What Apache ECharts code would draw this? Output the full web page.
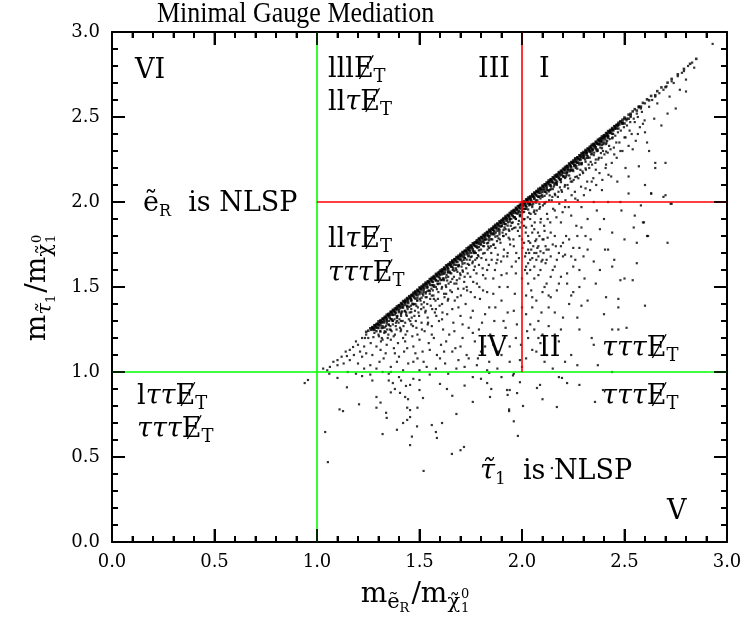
<!DOCTYPE html>
<html><head><meta charset="utf-8">
<script src="https://cdn.jsdelivr.net/npm/echarts@6/dist/echarts.min.js"></script>
<style>html,body{margin:0;padding:0;background:#fff}#c{width:746px;height:621px}</style>
</head><body><div id="c"></div>
<script>
const xTickLabels = ['0.0','0.5','1.0','1.5','2.0','2.5','3.0'];
const yTickLabels = ['0.0','0.5','1.0','1.5','2.0','2.5','3.0'];
const majorTicks = [0,0.5,1,1.5,2,2.5,3];
const minorTicks = [0.1,0.2,0.3,0.4,0.6,0.7,0.8,0.9,1.1,1.2,1.3,1.4,1.6,1.7,1.8,1.9,2.1,2.2,2.3,2.4,2.6,2.7,2.8,2.9];
const greenV = [[1,0],[1,3]];
const greenH = [[0,1],[3,1]];
const redV = [[2,1],[2,3]];
const redH = [[1,2],[3,2]];

const bandA = [[1.24,1.236],[1.25,1.243],[1.26,1.257],[1.27,1.264],[1.28,1.275],[1.29,1.282],[1.30,1.298],[1.31,1.305],[1.32,1.314],[1.33,1.324],[1.34,1.337],[1.35,1.343],[1.36,1.355],[1.37,1.366],[1.38,1.374],[1.39,1.386],[1.40,1.393],[1.41,1.405],[1.42,1.417],[1.43,1.424],[1.44,1.435],[1.45,1.446],[1.46,1.453],[1.47,1.466],[1.48,1.475],[1.49,1.484],[1.50,1.497],[1.51,1.503],[1.52,1.515],[1.53,1.526],[1.54,1.533],[1.55,1.546],[1.56,1.555],[1.57,1.564],[1.58,1.577],[1.59,1.583],[1.60,1.596],[1.61,1.604],[1.62,1.615],[1.63,1.627],[1.64,1.634],[1.65,1.645],[1.66,1.656],[1.67,1.663],[1.68,1.676],[1.69,1.684],[1.70,1.695],[1.71,1.706],[1.72,1.713],[1.73,1.727],[1.74,1.735],[1.75,1.744],[1.76,1.757],[1.77,1.763],[1.78,1.775],[1.79,1.786],[1.80,1.794],[1.81,1.806],[1.82,1.815],[1.83,1.824],[1.84,1.837],[1.85,1.843],[1.86,1.855],[1.87,1.866],[1.88,1.874],[1.89,1.886],[1.90,1.893],[1.91,1.905],[1.92,1.917],[1.93,1.924],[1.94,1.935],[1.95,1.946],[1.96,1.953],[1.97,1.966],[1.98,1.975],[1.99,1.984],[2.00,1.996],[2.01,2.003],[2.02,2.015],[2.03,2.026],[2.04,2.033],[2.05,2.046],[2.06,2.055],[2.07,2.064],[2.08,2.077],[2.09,2.083],[2.10,2.096],[2.11,2.104],[2.12,2.115],[2.13,2.127],[2.14,2.134],[2.15,2.145],[2.16,2.156],[2.17,2.163],[2.18,2.176],[2.19,2.184],[2.20,2.195],[2.21,2.206],[2.22,2.213],[2.23,2.227],[2.24,2.235],[2.25,2.244],[2.26,2.257],[2.27,2.263],[2.28,2.275],[2.29,2.286],[2.30,2.294],[2.31,2.306],[2.32,2.315],[2.33,2.324],[2.34,2.337],[2.35,2.343],[2.36,2.355],[2.37,2.366],[2.38,2.374],[2.39,2.386],[2.40,2.393],[2.41,2.405],[2.42,2.417],[2.43,2.424],[2.44,2.435],[2.45,2.446],[2.46,2.453],[2.47,2.466],[2.48,2.475],[2.49,2.484],[2.50,2.497],[2.52,2.514],[2.54,2.533],[2.55,2.546],[2.57,2.562],[2.59,2.583],[2.61,2.604],[2.63,2.624],[2.66,2.652],[2.68,2.674],[2.71,2.702],[2.73,2.724],[2.76,2.751],[2.79,2.783],[2.82,2.813],[2.85,2.842]];

const bandB = [[1.265,1.248],[1.275,1.26],[1.285,1.267],[1.295,1.279],[1.305,1.287],[1.315,1.297],[1.325,1.31],[1.335,1.317],[1.345,1.328],[1.355,1.338],[1.365,1.35],[1.375,1.357],[1.385,1.368],[1.395,1.379],[1.405,1.387],[1.415,1.398],[1.425,1.41],[1.435,1.416],[1.445,1.429],[1.455,1.437],[1.465,1.448],[1.475,1.46],[1.485,1.466],[1.495,1.478],[1.505,1.489],[1.515,1.497],[1.525,1.508],[1.535,1.52],[1.545,1.527],[1.555,1.538],[1.565,1.549],[1.575,1.556],[1.585,1.569],[1.595,1.577],[1.605,1.588],[1.615,1.599],[1.625,1.607],[1.635,1.618],[1.645,1.63],[1.655,1.636],[1.665,1.649],[1.675,1.657],[1.685,1.668],[1.695,1.679],[1.705,1.687],[1.715,1.698],[1.725,1.71],[1.735,1.716],[1.745,1.729],[1.755,1.737],[1.765,1.748],[1.775,1.759],[1.785,1.766],[1.795,1.778],[1.805,1.789],[1.815,1.797],[1.825,1.808],[1.835,1.82],[1.845,1.827],[1.855,1.838],[1.865,1.849],[1.875,1.856],[1.885,1.869],[1.895,1.877],[1.905,1.888],[1.915,1.899],[1.925,1.907],[1.935,1.918],[1.945,1.93],[1.955,1.936],[1.965,1.949],[1.975,1.957],[1.985,1.968],[1.995,1.979],[2.005,1.987],[2.015,1.998],[2.025,2.01],[2.035,2.016],[2.045,2.029],[2.055,2.037],[2.065,2.048],[2.075,2.059],[2.085,2.066],[2.095,2.078],[2.105,2.089],[2.115,2.097],[2.125,2.108],[2.135,2.12],[2.145,2.127],[2.155,2.138],[2.165,2.149],[2.175,2.156],[2.185,2.169],[2.195,2.177],[2.205,2.188],[2.215,2.199],[2.225,2.207],[2.235,2.218],[2.245,2.23],[2.255,2.236],[2.265,2.249],[2.275,2.257],[2.285,2.268],[2.295,2.279],[2.305,2.287],[2.315,2.298],[2.325,2.31],[2.335,2.316],[2.345,2.329],[2.355,2.337],[2.365,2.348],[2.375,2.359],[2.385,2.366],[2.395,2.378],[2.405,2.389],[2.415,2.397],[2.425,2.408],[2.435,2.42],[2.445,2.427],[2.455,2.438],[2.465,2.449],[2.475,2.456],[2.49,2.47],[2.51,2.49],[2.53,2.509],[2.56,2.538],[2.58,2.561],[2.62,2.598],[2.65,2.628],[2.70,2.676]];

const bandC = [[1.28,1.248],[1.295,1.262],[1.31,1.274],[1.325,1.291],[1.34,1.303],[1.355,1.318],[1.37,1.336],[1.385,1.349],[1.40,1.363],[1.415,1.38],[1.43,1.394],[1.445,1.406],[1.46,1.425],[1.475,1.438],[1.49,1.452],[1.505,1.47],[1.52,1.483],[1.535,1.497],[1.55,1.513],[1.565,1.53],[1.58,1.541],[1.595,1.558],[1.61,1.575],[1.625,1.586],[1.64,1.603],[1.655,1.62],[1.67,1.631],[1.685,1.648],[1.70,1.665],[1.715,1.676],[1.73,1.693],[1.745,1.71],[1.76,1.721],[1.775,1.738],[1.79,1.755],[1.805,1.766],[1.82,1.783],[1.835,1.8],[1.85,1.811],[1.865,1.828],[1.88,1.845],[1.895,1.856],[1.91,1.873],[1.925,1.89],[1.94,1.901],[1.955,1.918],[1.97,1.935],[1.985,1.946],[2.00,1.963],[2.015,1.98],[2.03,1.991],[2.045,2.008],[2.06,2.025],[2.075,2.036],[2.09,2.053],[2.105,2.07],[2.12,2.081],[2.135,2.098],[2.15,2.115],[2.165,2.126],[2.18,2.143],[2.195,2.16],[2.21,2.171],[2.225,2.188],[2.24,2.205],[2.255,2.216],[2.27,2.233],[2.285,2.25],[2.30,2.261],[2.315,2.278],[2.33,2.295],[2.345,2.306],[2.36,2.323],[2.375,2.34],[2.39,2.351],[2.405,2.368],[2.42,2.385],[2.44,2.402],[2.47,2.432],[2.50,2.462]];

const bandD = [[1.29,1.24],[1.315,1.258],[1.34,1.285],[1.365,1.31],[1.39,1.327],[1.415,1.356],[1.44,1.383],[1.465,1.402],[1.49,1.437],[1.515,1.46],[1.54,1.478],[1.565,1.51],[1.59,1.535],[1.615,1.55],[1.64,1.585],[1.665,1.61],[1.69,1.625],[1.715,1.66],[1.74,1.685],[1.765,1.7],[1.79,1.735],[1.815,1.76],[1.84,1.775],[1.865,1.81],[1.89,1.835],[1.915,1.85],[1.94,1.885],[1.965,1.91],[1.99,1.925],[2.015,1.96],[2.04,1.985],[2.065,2.0],[2.09,2.035],[2.115,2.06],[2.14,2.075],[2.165,2.11],[2.19,2.135],[2.215,2.15],[2.24,2.185],[2.265,2.21],[2.29,2.225],[2.315,2.26],[2.34,2.285],[2.365,2.3],[2.39,2.335],[2.415,2.36],[2.44,2.375]];

const bandE = [[1.27,1.259],[1.283,1.274],[1.296,1.285],[1.309,1.298],[1.322,1.313],[1.335,1.324],[1.348,1.337],[1.361,1.352],[1.374,1.363],[1.387,1.376],[1.40,1.391],[1.413,1.402],[1.426,1.415],[1.439,1.43],[1.452,1.441],[1.465,1.454],[1.478,1.469],[1.491,1.48],[1.504,1.493],[1.517,1.508],[1.53,1.519],[1.543,1.532],[1.556,1.547],[1.569,1.558],[1.582,1.571],[1.595,1.586],[1.608,1.597],[1.621,1.61],[1.634,1.625],[1.647,1.636],[1.66,1.649],[1.673,1.664],[1.686,1.675],[1.699,1.688],[1.712,1.703],[1.725,1.714],[1.738,1.727],[1.751,1.742],[1.764,1.753],[1.777,1.766],[1.79,1.781],[1.803,1.792],[1.816,1.805],[1.829,1.82],[1.842,1.831],[1.855,1.844],[1.868,1.859],[1.881,1.87],[1.894,1.883],[1.907,1.898],[1.92,1.909],[1.933,1.922],[1.946,1.937],[1.959,1.948],[1.972,1.961],[1.985,1.976],[1.998,1.987],[2.011,2.0],[2.024,2.015],[2.037,2.026],[2.05,2.039],[2.063,2.054],[2.076,2.065],[2.089,2.078],[2.102,2.093],[2.115,2.104],[2.128,2.117],[2.141,2.132],[2.154,2.143],[2.167,2.156],[2.18,2.171],[2.193,2.182],[2.206,2.195],[2.219,2.21],[2.232,2.221],[2.245,2.234],[2.258,2.249],[2.271,2.26],[2.284,2.273],[2.297,2.288],[2.31,2.299],[2.323,2.312],[2.336,2.327],[2.349,2.338],[2.362,2.351],[2.375,2.366],[2.388,2.377],[2.401,2.39],[2.414,2.405],[2.427,2.416],[2.44,2.429],[2.453,2.444],[2.466,2.455],[2.48,2.469],[2.50,2.488],[2.53,2.519],[2.57,2.557]];

const bandF = [[1.275,1.251],[1.288,1.26],[1.301,1.275],[1.314,1.29],[1.327,1.299],[1.34,1.314],[1.353,1.329],[1.366,1.338],[1.379,1.353],[1.392,1.368],[1.405,1.377],[1.418,1.392],[1.431,1.407],[1.444,1.416],[1.457,1.431],[1.47,1.446],[1.483,1.455],[1.496,1.47],[1.509,1.485],[1.522,1.494],[1.535,1.509],[1.548,1.524],[1.561,1.533],[1.574,1.548],[1.587,1.563],[1.60,1.572],[1.613,1.587],[1.626,1.602],[1.639,1.611],[1.652,1.626],[1.665,1.641],[1.678,1.65],[1.691,1.665],[1.704,1.68],[1.717,1.689],[1.73,1.704],[1.743,1.719],[1.756,1.728],[1.769,1.743],[1.782,1.758],[1.795,1.767],[1.808,1.782],[1.821,1.797],[1.834,1.806],[1.847,1.821],[1.86,1.836],[1.873,1.845],[1.886,1.86],[1.899,1.875],[1.912,1.884],[1.925,1.899],[1.938,1.914],[1.951,1.923],[1.964,1.938],[1.977,1.953],[1.99,1.962],[2.003,1.977],[2.016,1.992],[2.029,2.001],[2.042,2.016],[2.055,2.031],[2.068,2.04],[2.081,2.055],[2.094,2.07],[2.107,2.079],[2.12,2.094],[2.133,2.109],[2.146,2.118],[2.159,2.133],[2.172,2.148],[2.185,2.157],[2.198,2.172],[2.211,2.187],[2.224,2.196],[2.237,2.211],[2.25,2.226],[2.263,2.235],[2.276,2.25],[2.289,2.265],[2.302,2.274],[2.315,2.289],[2.328,2.304],[2.341,2.313],[2.354,2.328],[2.367,2.343],[2.38,2.352],[2.393,2.367],[2.406,2.382],[2.419,2.391],[2.432,2.406],[2.445,2.421],[2.46,2.433],[2.49,2.462],[2.52,2.49]];

const bandG = [[1.30,1.258],[1.32,1.27],[1.34,1.297],[1.36,1.311],[1.38,1.338],[1.40,1.352],[1.42,1.379],[1.44,1.389],[1.46,1.418],[1.48,1.431],[1.50,1.458],[1.52,1.47],[1.54,1.498],[1.56,1.511],[1.58,1.538],[1.60,1.55],[1.62,1.578],[1.64,1.591],[1.66,1.618],[1.68,1.63],[1.70,1.658],[1.72,1.671],[1.74,1.698],[1.76,1.71],[1.78,1.738],[1.80,1.751],[1.82,1.778],[1.84,1.79],[1.86,1.818],[1.88,1.831],[1.90,1.858],[1.92,1.87],[1.94,1.898],[1.96,1.911],[1.98,1.938],[2.00,1.95],[2.02,1.978],[2.04,1.991],[2.06,2.018],[2.08,2.03],[2.10,2.058],[2.12,2.071],[2.14,2.098],[2.16,2.11],[2.18,2.138],[2.20,2.151],[2.22,2.178],[2.24,2.19],[2.26,2.218],[2.28,2.231],[2.30,2.258],[2.32,2.27],[2.34,2.298],[2.36,2.311],[2.38,2.338],[2.40,2.35],[2.42,2.378]];

const bandH = [[1.31,1.238],[1.33,1.262],[1.35,1.276],[1.37,1.301],[1.39,1.318],[1.41,1.342],[1.43,1.356],[1.45,1.383],[1.47,1.397],[1.49,1.421],[1.51,1.437],[1.53,1.462],[1.55,1.476],[1.57,1.501],[1.59,1.517],[1.61,1.541],[1.63,1.556],[1.65,1.582],[1.67,1.596],[1.69,1.621],[1.71,1.637],[1.73,1.661],[1.75,1.676],[1.77,1.702],[1.79,1.716],[1.81,1.741],[1.83,1.757],[1.85,1.781],[1.87,1.796],[1.89,1.822],[1.91,1.836],[1.93,1.861],[1.95,1.877],[1.97,1.901],[1.99,1.916],[2.01,1.942],[2.03,1.956],[2.05,1.981],[2.07,1.997],[2.09,2.021],[2.11,2.036],[2.13,2.062],[2.15,2.076],[2.17,2.101],[2.19,2.117],[2.21,2.141],[2.23,2.156],[2.25,2.182],[2.27,2.196],[2.29,2.221],[2.31,2.237],[2.33,2.261],[2.35,2.276],[2.37,2.302],[2.39,2.316],[2.41,2.341]];

const bandI = [[1.335,1.235],[1.36,1.248],[1.385,1.29],[1.41,1.3],[1.435,1.338],[1.46,1.352],[1.485,1.389],[1.51,1.398],[1.535,1.44],[1.56,1.449],[1.585,1.487],[1.61,1.5],[1.635,1.538],[1.66,1.547],[1.685,1.589],[1.71,1.598],[1.735,1.636],[1.76,1.65],[1.785,1.688],[1.81,1.697],[1.835,1.739],[1.86,1.748],[1.885,1.786],[1.91,1.8],[1.935,1.838],[1.96,1.847],[1.985,1.889],[2.01,1.898],[2.035,1.936],[2.06,1.95],[2.085,1.988],[2.11,1.997],[2.135,2.039],[2.16,2.048],[2.185,2.086],[2.21,2.1],[2.235,2.138],[2.26,2.147],[2.285,2.189],[2.31,2.198],[2.335,2.236],[2.36,2.25],[2.385,2.288],[2.41,2.297]];

const startPts = [[1.03,1.02],[1.063,1.03],[1.10,1.07],[1.12,1.09],[1.16,1.13],[1.176,1.147],[1.20,1.16],[1.234,1.2],[1.146,1.094],[1.10,1.04],[1.16,1.07],[1.22,1.09],[1.21,1.12],[1.08,1.06],[1.14,1.12],[1.19,1.18],[1.22,1.2],[1.24,1.22],[1.05,1.01],[1.13,1.05],[1.18,1.1],[1.23,1.15],[1.25,1.2],[1.2,1.05],[1.23,1.02],[1.15,1.0],[1.24,1.11]];

const midPts = [[1.262,1.17],[1.275,1.205],[1.29,1.15],[1.30,1.22],[1.31,1.13],[1.32,1.19],[1.33,1.24],[1.335,1.11],[1.345,1.2],[1.27,1.1],[1.28,1.23],[1.305,1.06],[1.325,1.08],[1.34,1.16],[1.26,1.04],[1.29,1.02],
[1.355,1.25],[1.36,1.19],[1.37,1.28],[1.375,1.14],[1.38,1.22],[1.39,1.3],[1.395,1.17],[1.40,1.09],[1.405,1.26],[1.41,1.33],[1.42,1.2],[1.425,1.12],[1.43,1.29],[1.435,1.35],[1.44,1.24],[1.445,1.05],[1.36,1.03],[1.39,1.06],[1.42,1.01],[1.38,1.11],
[1.455,1.3],[1.46,1.37],[1.465,1.21],[1.47,1.15],[1.475,1.33],[1.48,1.4],[1.485,1.26],[1.49,1.08],[1.495,1.35],[1.50,1.19],[1.505,1.42],[1.51,1.29],[1.515,1.12],[1.52,1.38],[1.525,1.24],[1.53,1.44],[1.535,1.03],[1.54,1.32],[1.545,1.17],[1.55,1.46],[1.47,1.06],[1.50,1.01],
[1.555,1.39],[1.56,1.27],[1.565,1.48],[1.57,1.2],[1.575,1.35],[1.58,1.5],[1.585,1.1],[1.59,1.43],[1.595,1.3],[1.60,1.52],[1.605,1.16],[1.61,1.4],[1.615,1.25],[1.62,1.54],[1.625,1.05],[1.63,1.46],[1.635,1.34],[1.64,1.56],[1.645,1.22],[1.65,1.48],[1.58,1.02],[1.62,1.12],
[1.655,1.58],[1.66,1.37],[1.665,1.29],[1.67,1.52],[1.675,1.14],[1.68,1.6],[1.685,1.44],[1.69,1.07],[1.695,1.55],[1.70,1.33],[1.705,1.62],[1.71,1.2],[1.715,1.49],[1.72,1.64],[1.725,1.4],[1.73,1.1],[1.735,1.58],[1.74,1.26],[1.745,1.66],[1.75,1.47],[1.68,1.02],[1.72,1.03],
[1.755,1.68],[1.76,1.36],[1.765,1.6],[1.77,1.18],[1.775,1.7],[1.78,1.52],[1.785,1.08],[1.79,1.63],[1.795,1.43],[1.80,1.72],[1.805,1.29],[1.81,1.57],[1.815,1.74],[1.82,1.15],[1.825,1.66],[1.83,1.47],[1.835,1.76],[1.84,1.38],[1.845,1.22],[1.85,1.7],[1.78,1.04],[1.83,1.01],
[1.855,1.78],[1.86,1.55],[1.865,1.3],[1.87,1.73],[1.875,1.64],[1.88,1.8],[1.885,1.12],[1.89,1.5],[1.895,1.76],[1.90,1.42],[1.905,1.82],[1.91,1.68],[1.915,1.2],[1.92,1.84],[1.925,1.58],[1.93,1.35],[1.935,1.79],[1.94,1.06],[1.945,1.86],[1.95,1.62],[1.88,1.02],
[1.955,1.88],[1.96,1.74],[1.965,1.46],[1.97,1.9],[1.975,1.28],[1.98,1.83],[1.985,1.67],[1.99,1.92],[1.995,1.16],[2.0,1.55],[2.0,1.78],[2.0,1.38],[2.005,1.94],[2.01,1.86],[2.015,1.6],[2.02,1.96],[2.025,1.24],[2.03,1.72],[2.035,1.98],[2.04,1.9],[2.045,1.48],[2.05,1.97],[1.99,1.07],[2.0,1.03]];

const speckPts = [[1.302,1.21],[1.308,1.24],[1.316,1.2],[1.322,1.26],[1.328,1.23],[1.336,1.27],[1.342,1.25],[1.348,1.22],[1.35,1.28],[1.312,1.18],
[1.352,1.3],[1.358,1.27],[1.364,1.24],[1.368,1.3],[1.374,1.21],[1.378,1.31],[1.384,1.27],[1.388,1.25],[1.392,1.33],[1.398,1.29],[1.402,1.31],[1.408,1.24],[1.412,1.35],[1.418,1.3],[1.422,1.27],[1.428,1.36],[1.432,1.22],[1.438,1.33],[1.442,1.37],[1.448,1.31],
[1.452,1.35],[1.458,1.39],[1.462,1.32],[1.468,1.27],[1.472,1.4],[1.478,1.36],[1.482,1.3],[1.488,1.42],[1.492,1.38],[1.498,1.33],[1.502,1.43],[1.508,1.37],[1.512,1.25],[1.518,1.45],[1.522,1.41],[1.528,1.35],[1.532,1.47],[1.538,1.4],[1.542,1.29],[1.548,1.48],
[1.552,1.43],[1.558,1.49],[1.562,1.37],[1.568,1.45],[1.572,1.51],[1.578,1.42],[1.582,1.33],[1.588,1.52],[1.592,1.47],[1.598,1.39],[1.602,1.54],[1.608,1.49],[1.612,1.35],[1.618,1.55],[1.622,1.44],[1.628,1.51],[1.632,1.57],[1.638,1.42],[1.642,1.52],[1.648,1.59],
[1.652,1.53],[1.658,1.47],[1.662,1.6],[1.668,1.56],[1.672,1.42],[1.678,1.61],[1.682,1.54],[1.688,1.49],[1.692,1.63],[1.698,1.58],[1.702,1.45],[1.708,1.65],[1.712,1.59],[1.718,1.53],[1.722,1.67],[1.728,1.61],[1.732,1.48],[1.738,1.68],[1.742,1.63],[1.748,1.56],
[1.752,1.7],[1.758,1.64],[1.762,1.53],[1.768,1.71],[1.772,1.66],[1.778,1.58],[1.782,1.73],[1.788,1.68],[1.792,1.5],[1.798,1.75],[1.802,1.67],[1.808,1.61],[1.812,1.77],[1.818,1.7],[1.822,1.55],[1.828,1.78],[1.832,1.72],[1.838,1.63],[1.842,1.8],[1.848,1.74],
[1.852,1.66],[1.858,1.81],[1.862,1.75],[1.868,1.6],[1.872,1.82],[1.878,1.77],[1.882,1.69],[1.888,1.84],[1.892,1.78],[1.898,1.65],[1.902,1.86],[1.908,1.8],[1.912,1.72],[1.918,1.87],[1.922,1.81],[1.928,1.68],[1.932,1.88],[1.938,1.83],[1.942,1.75],[1.948,1.9],
[1.952,1.84],[1.958,1.78],[1.962,1.91],[1.968,1.85],[1.972,1.7],[1.978,1.93],[1.982,1.87],[1.988,1.8],[1.992,1.94],[1.998,1.88],[2.002,1.73],[2.008,1.96],[2.012,1.9],[2.018,1.82],[2.022,1.97],[2.028,1.91],[2.032,1.77],[2.038,1.99],[2.042,1.93],[2.048,1.86],
[2.052,2.0],[2.058,1.94],[2.062,1.88],[2.068,2.01],[2.072,1.95],[2.078,1.82],[2.082,2.03],[2.088,1.97],[2.092,1.9],[2.098,2.04],[2.102,1.98],[2.108,1.86],[2.112,2.06],[2.118,2.0],[2.122,1.93],[2.128,2.07],[2.132,2.01],[2.138,1.88],[2.142,2.09],[2.148,2.03],
[2.152,1.96],[2.158,2.1],[2.162,2.04],[2.168,1.91],[2.172,2.12],[2.178,2.06],[2.182,1.99],[2.188,2.13],[2.192,2.07],[2.198,1.94],[2.202,2.15],[2.208,2.09],[2.212,2.01],[2.218,2.16],[2.222,2.1],[2.228,1.97],[2.232,2.18],[2.238,2.12],[2.242,2.04],[2.248,2.19],
[2.252,2.13],[2.258,2.06],[2.262,2.2],[2.268,2.15],[2.272,2.01],[2.278,2.22],[2.282,2.16],[2.288,2.09],[2.292,2.23],[2.298,2.17],[2.302,2.04],[2.308,2.25],[2.312,2.19],[2.318,2.12],[2.322,2.26],[2.328,2.2],[2.332,2.07],[2.338,2.28],[2.342,2.22],[2.348,2.14],
[2.352,2.29],[2.358,2.23],[2.362,2.1],[2.368,2.31],[2.372,2.25],[2.378,2.17],[2.382,2.32],[2.388,2.26],[2.392,2.13],[2.398,2.34],[2.402,2.28],[2.408,2.2],[2.412,2.35],[2.418,2.29],[2.422,2.16],[2.428,2.37],[2.432,2.31],[2.438,2.23],[2.442,2.38],[2.448,2.32],
[2.455,2.39],[2.462,2.26],[2.468,2.41],[2.475,2.35],[2.482,2.42],[2.49,2.3],[2.497,2.44],[2.505,2.38],[2.512,2.45],[2.52,2.33],[2.528,2.47],[2.535,2.4],[2.545,2.49],[2.555,2.36],[2.565,2.5],[2.575,2.44],[2.585,2.53],[2.598,2.48]];

const fillPts = [[1.32,1.0],[1.36,1.0],[1.44,1.14],[1.48,1.11],[1.52,1.06],[1.55,1.13],[1.6,1.08],[1.63,1.18],[1.66,1.12],[1.7,1.15],[1.74,1.08],[1.76,1.23],[1.8,1.12],[1.84,1.06],[1.86,1.16],[1.9,1.1],[1.92,1.26],[1.94,1.15],[1.97,1.2],[1.56,1.22],[1.61,1.31],[1.67,1.24],[1.71,1.28],[1.75,1.32],[1.79,1.25],[1.82,1.34],[1.87,1.38],[1.91,1.3],[1.96,1.36],[1.64,1.43],[1.69,1.38],[1.73,1.5],[1.77,1.44],[1.81,1.48],[1.86,1.46],[1.9,1.57],[1.93,1.5],[1.97,1.58],[1.68,1.52],[1.72,1.56],[1.77,1.62],[1.83,1.6],[1.88,1.66],[1.93,1.7],[1.97,1.65],[1.62,1.46],[1.58,1.37],[1.54,1.28],[1.49,1.22],[1.46,1.28],[1.43,1.18],[1.41,1.25],[1.53,1.36],[1.57,1.43],[1.63,1.5],[1.7,1.57],[1.78,1.67],[1.84,1.73],[1.89,1.81],[1.94,1.78],[1.99,1.85]];

const rightPts = [[2.055,1.99],[2.06,1.84],[2.065,1.93],[2.07,1.7],[2.075,2.01],[2.08,1.57],[2.085,1.96],[2.09,1.88],[2.095,1.35],[2.10,2.03],[2.105,1.78],[2.11,1.99],[2.115,1.64],[2.12,2.05],[2.125,1.9],[2.13,1.45],[2.135,2.07],[2.14,1.82],[2.145,2.01],[2.15,1.6],[2.08,1.2],[2.12,1.1],
[2.155,2.09],[2.16,1.95],[2.165,1.74],[2.17,2.11],[2.175,2.03],[2.18,1.52],[2.185,2.13],[2.19,1.88],[2.195,2.06],[2.20,1.68],[2.205,2.15],[2.21,1.97],[2.215,1.8],[2.22,2.17],[2.225,2.08],[2.23,1.4],[2.235,2.19],[2.24,1.92],[2.245,2.12],[2.25,1.62],[2.19,1.25],
[2.255,2.21],[2.26,2.02],[2.265,1.86],[2.27,2.23],[2.275,2.14],[2.28,1.73],[2.285,2.25],[2.29,1.97],[2.295,2.18],[2.30,2.27],[2.305,1.55],[2.31,2.08],[2.315,2.29],[2.32,1.9],[2.325,2.22],[2.33,2.3],[2.335,1.78],[2.34,2.12],[2.345,2.31],[2.35,2.0],
[2.355,2.32],[2.36,2.19],[2.365,1.95],[2.37,2.34],[2.375,2.26],[2.38,1.84],[2.385,2.36],[2.39,2.07],[2.395,2.3],[2.40,2.38],[2.405,1.72],[2.41,2.22],[2.415,2.39],[2.42,2.0],[2.425,2.33],[2.43,2.41],[2.435,2.15],[2.44,1.62],[2.445,2.4],[2.45,2.28],
[2.455,2.43],[2.46,2.35],[2.465,2.12],[2.47,2.45],[2.48,2.3],[2.485,1.95],[2.49,2.46],[2.50,2.38],[2.505,2.2],[2.51,2.48],[2.52,2.05],[2.525,2.42],[2.53,2.5],[2.54,2.31],[2.55,2.47],[2.545,1.85],
[2.56,2.52],[2.565,2.4],[2.57,2.21],[2.58,2.55],[2.59,2.46],[2.595,1.88],[2.60,2.58],[2.61,2.35],[2.615,1.8],[2.62,2.56],[2.63,2.05],[2.635,2.6],[2.645,2.49],[2.65,2.62],
[2.66,2.58],[2.67,2.64],[2.68,2.45],[2.69,2.66],[2.70,2.23],[2.705,2.68],[2.71,1.76],[2.72,2.62],[2.725,1.99],[2.73,2.71],[2.74,2.7],[2.75,2.55],[2.76,2.74],[2.77,2.66],[2.78,2.76],[2.79,2.77],[2.80,2.72],[2.81,2.8],[2.83,2.82],[2.84,2.79],[2.70,2.04],[2.93,2.93],[2.80,2.65],
[2.02,1.85],[2.03,1.8],[2.04,1.76],[2.05,1.82],[2.06,1.7],[2.07,1.78],[2.04,1.66],[2.02,1.7],[2.08,1.74],[2.1,1.66],[2.12,1.72],[2.09,1.6],[2.06,1.55],[2.03,1.52],[2.05,1.44],[2.11,1.5],[2.14,1.56],[2.16,1.62],[2.18,1.7],[2.2,1.76],[2.22,1.58],[2.24,1.68],[2.26,1.66],[2.28,1.6],[2.3,1.68],[2.32,1.72],[2.35,1.65],[2.38,1.6],[2.13,1.38],[2.16,1.35],[2.2,1.32],[2.08,1.3],[2.04,1.28],[2.02,1.34],[2.1,1.22],[2.18,1.18],[2.07,1.12],[2.24,1.45],[2.28,1.5],[2.32,1.42],[2.36,1.52],[2.42,1.72],[2.45,1.66],[2.5,1.78],[2.55,1.92],[2.58,1.98],[2.4,1.9],[2.44,1.82],[2.48,2.0],[2.52,2.15],[2.6,2.1],[2.62,2.3],[2.65,2.2],[2.34,1.2],[2.21,1.06],[2.15,1.02],
[2.59,1.88],[2.6,1.39],[2.56,1.64],[2.48,1.54],[2.5,1.55],[2.54,1.54],[2.47,1.43],[2.47,1.38],[2.44,1.25],[2.47,1.25],[2.51,1.26],[2.40,1.34],[2.41,1.44],[2.35,1.16],[2.37,1.04],[2.27,1.04],[2.44,1.0],[2.24,1.10],[2.28,1.25],[2.27,1.32],[2.29,1.39],[2.69,2.03],[2.65,2.23],[2.6,2.41],[2.71,2.52],[2.63,2.05],[2.61,1.8],[2.56,1.76],[2.73,1.99],
[2.01,1.76],[2.015,1.68],[2.02,1.62],[2.025,1.58],[2.03,1.64],[2.035,1.7],[2.04,1.6],[2.045,1.72],[2.05,1.67],[2.055,1.74],[2.06,1.62],[2.065,1.77],[2.07,1.66],[2.075,1.73],[2.08,1.68],[2.085,1.8],[2.09,1.71],[2.095,1.65],[2.1,1.78],[2.105,1.7],[2.11,1.83],[2.115,1.74],[2.12,1.66],[2.125,1.79],[2.13,1.72],[2.14,1.68],[2.15,1.75],[2.16,1.8],[2.17,1.66],[2.19,1.74],[2.21,1.69],[2.23,1.78],[2.25,1.73],[2.27,1.8],[2.29,1.85],[2.31,1.8],[2.02,1.45],[2.05,1.38],[2.07,1.42],[2.1,1.47],[2.12,1.52],[2.14,1.44],[2.17,1.48],[2.19,1.56],[2.22,1.52],[2.25,1.47],[2.03,1.2],[2.06,1.25],[2.09,1.17],[2.13,1.27],[2.16,1.22],[2.02,1.08],[2.05,1.13],[2.11,1.06]];

const lowPts = [[0.94,0.935],[0.956,0.953],[1.10,0.965],[1.146,0.91],[1.11,0.78],[1.127,0.77],[1.205,0.81],[1.04,0.647],[1.053,0.47],[1.22,0.976],[1.29,0.853],[1.31,0.82],[1.29,0.79],[1.337,0.76],[1.34,0.73],[1.32,0.635],[1.39,0.66],[1.40,0.97],[1.37,0.935],[1.405,0.877],[1.434,0.918],[1.454,0.924],[1.43,0.853],[1.444,0.84],[1.44,0.79],[1.454,0.776],[1.454,0.735],[1.44,0.718],[1.42,0.70],[1.49,0.79],[1.463,0.62],[1.454,0.57],[1.488,0.68],[1.50,0.953],[1.50,0.894],[1.517,0.847],[1.52,0.418],[1.56,0.688],[1.58,0.647],[1.585,0.612],[1.61,0.70],[1.634,0.90],[1.658,0.518],[1.68,0.753],[1.70,0.54],[1.717,0.559],[1.76,0.824],[1.76,0.97],[1.83,0.935],[1.844,0.853],[1.94,0.894],[1.93,0.865],[1.937,0.78],[1.98,0.624],[1.99,0.94],[1.956,0.98],[2.088,0.924],[2.073,0.906],[1.927,0.894],[1.976,0.876],[2.005,0.80],[1.937,0.77],[1.96,0.71],[2.10,0.84],[2.17,0.794],[2.18,0.97],[2.195,0.965],[2.22,0.935],[2.28,0.924],[2.356,0.824],[2.395,0.894],[2.146,0.435],
[1.06,0.99],[1.19,0.99],[1.26,0.985],[1.35,0.99],[1.55,0.985],[1.64,0.99],[1.84,0.995],[1.96,0.99],[1.36,0.88],[1.38,0.9],[1.41,0.95],[1.47,0.96],[1.35,0.95],[1.27,0.95],[1.6,0.93],[1.66,0.86],[1.72,0.92],[1.8,0.96],[1.9,0.97],[1.85,0.9]];

// ---------- text helpers ----------
const FAM = '"DejaVu Serif"';
const mctx = document.createElement('canvas').getContext('2d');
function fontOf(p){ return (p.i ? 'italic ' : '') + p.s + 'px ' + (p.f || FAM); }
function build(parts, x0, base, out){
  let x = x0;
  parts.forEach(p => {
    const font = fontOf(p);
    mctx.font = font;
    const w = mctx.measureText(p.t).width;
    const bx = x + (p.ox || 0), by = base + (p.dy || 0);
    if (out) {
      out.push({type:'text', x:bx, y:by - 0.3 * p.s, silent:true,
        style:{text:p.t, font:font, fill:'#000', align:'left', verticalAlign:'middle'}});
      if (p.slash) out.push({type:'line', silent:true,
        shape:{x1:bx + 0.98 * w, y1:by - 0.73 * p.s - 3, x2:bx + 0.28 * w, y2:by + 1},
        style:{stroke:'#000', lineWidth:1.3}});
    }
    if (p.adv !== false) x += w + (p.sp || 0);
  });
  return x - x0;
}
const S = 27;
const P = t => ({t:t, s:S});
const TAU = {t:'τ', s:S, i:true};
const TAU3 = {t:'τττ', s:S, i:true};
const EM = {t:'E', s:S, slash:true};
const SUBT = {t:'T', s:18, dy:5};

const labels = [
  {x:135, b:79, parts:[P('VI')]},
  {x:328, b:78, parts:[P('lll'), EM, SUBT]},
  {x:328, b:111, parts:[P('ll'), TAU, EM, SUBT]},
  {x:478, b:78, parts:[P('III')]},
  {x:539, b:78, parts:[P('I')]},
  {x:143, b:212, parts:[P('ẽ'), {t:'R', s:16, dy:5}, P('  is NLSP')]},
  {x:328, b:248, parts:[P('ll'), TAU, EM, SUBT]},
  {x:328, b:282, parts:[TAU3, EM, SUBT]},
  {x:477, b:357, parts:[P('IV')]},
  {x:539, b:357, parts:[P('II')]},
  {x:602, b:357, parts:[TAU3, EM, SUBT]},
  {x:602, b:405, parts:[TAU3, EM, SUBT]},
  {x:137, b:405, parts:[P('l'), {t:'ττ', s:S, i:true}, EM, SUBT]},
  {x:137, b:438, parts:[TAU3, EM, SUBT]},
  {x:480, b:480, parts:[{t:'τ\u0303', s:S, i:true}, {t:'1', s:17, dy:5}, P('  is NLSP')]},
  {x:667, b:520, parts:[P('V')]}
];

const graphics = [];
labels.forEach(l => build(l.parts, l.x, l.b, graphics));

graphics.push({type:'text', x:157, y:14, scaleY:1.1, silent:true,
  style:{text:'Minimal Gauge Mediation', font:'26px "Liberation Serif"', fill:'#000', align:'left', verticalAlign:'middle'}});

const xTitle = [{t:'m', s:28}, {t:'ẽ', s:21, dy:6}, {t:'R', s:13, dy:10, sp:2}, {t:'/', s:28}, {t:'m', s:28},
  {t:'χ\u0303', s:21, dy:6, sp:1}, {t:'0', s:13, dy:-4, adv:false}, {t:'1', s:13, dy:10}];
const xw = build(xTitle, 0, 0, null);
build(xTitle, 415 - xw / 2, 603, graphics);

const yTitle = [{t:'m', s:28}, {t:'τ\u0303', s:21, dy:6, i:true}, {t:'1', s:13, dy:10, sp:2}, {t:'/', s:28}, {t:'m', s:28},
  {t:'χ\u0303', s:21, dy:6, sp:1}, {t:'0', s:13, dy:-4, adv:false}, {t:'1', s:13, dy:10}];
const yw = build(yTitle, 0, 0, null);
const yKids = [];
build(yTitle, -yw / 2, 0, yKids);
graphics.push({type:'group', x:46, y:288, rotation:Math.PI / 2, children:yKids});

// ---------- chart ----------
const chart = echarts.init(document.getElementById('c'), null, {renderer:'canvas'});
function mkAxis(pos, showLabel, labels, margin){
  return {
    type:'value', min:0, max:3, interval:0.5, position:pos,
    axisLine:{show:true, onZero:false, lineStyle:{color:'#000', width:2}},
    axisTick:{show:true, inside:true, length:13, lineStyle:{color:'#000', width:2}},
    minorTick:{show:true, splitNumber:5, length:6, lineStyle:{color:'#000', width:2}},
    splitLine:{show:false}, minorSplitLine:{show:false},
    axisLabel: showLabel ? {show:true, margin:margin, fontFamily:FAM, fontSize:18, color:'#000',
      showMinLabel:true, showMaxLabel:true, formatter:v => labels[Math.round(v / 0.5)]} : {show:false}
  };
}
const guide = (data, color) => ({type:'line', data:data, xAxisIndex:0, yAxisIndex:0, symbol:'none', silent:true,
  lineStyle:{color:color, width:1.6}, z:5, clip:false, animation:false});
const dots = (data, size) => ({type:'scatter', data:data, xAxisIndex:0, yAxisIndex:0, symbol:'rect', symbolSize:size,
  itemStyle:{color:'#000'}, silent:true, z:3, animation:false});
const tickMarks = (data, size, offset) => ({type:'scatter', data:data, xAxisIndex:0, yAxisIndex:0, symbol:'rect',
  symbolSize:size, symbolOffset:offset, itemStyle:{color:'#000'}, silent:true, clip:false, z:20, animation:false});

chart.setOption({
  animation:false,
  backgroundColor:'#fff',
  grid:{left:112, right:19, top:32, bottom:79, containLabel:false},
  xAxis:[mkAxis('bottom', true, xTickLabels, 11), mkAxis('top', false)],
  yAxis:[mkAxis('left', true, yTickLabels, 12), mkAxis('right', false)],
  series:[
    dots(bandA, 2.6), dots(bandB, 2.6), dots(bandC, 2.6), dots(bandD, 2.4), dots(bandE, 2.6), dots(bandF, 2.6), dots(bandG, 2.4),
    dots(bandH, 2.3), dots(bandI, 2.2),
    dots(startPts, 2.2), dots(midPts, 2.2), dots(speckPts, 2.2), dots(fillPts, 2.2), dots(rightPts, 2.2), dots(lowPts, 2.2),
    guide(greenV, '#00ff00'), guide(greenH, '#00ff00'), guide(redV, '#ff0000'), guide(redH, '#ff0000'),
    tickMarks(majorTicks.map(v => [v, 0]), [2, 13], [0, -6.5]),
    tickMarks(majorTicks.map(v => [v, 3]), [2, 13], [0, 6.5]),
    tickMarks(majorTicks.map(v => [0, v]), [13, 2], [6.5, 0]),
    tickMarks(majorTicks.map(v => [3, v]), [13, 2], [-6.5, 0]),
    tickMarks(minorTicks.map(v => [v, 0]), [2, 6], [0, -3]),
    tickMarks(minorTicks.map(v => [v, 3]), [2, 6], [0, 3]),
    tickMarks(minorTicks.map(v => [0, v]), [6, 2], [3, 0]),
    tickMarks(minorTicks.map(v => [3, v]), [6, 2], [-3, 0])
  ],
  graphic:graphics
});
</script>
</body></html>
